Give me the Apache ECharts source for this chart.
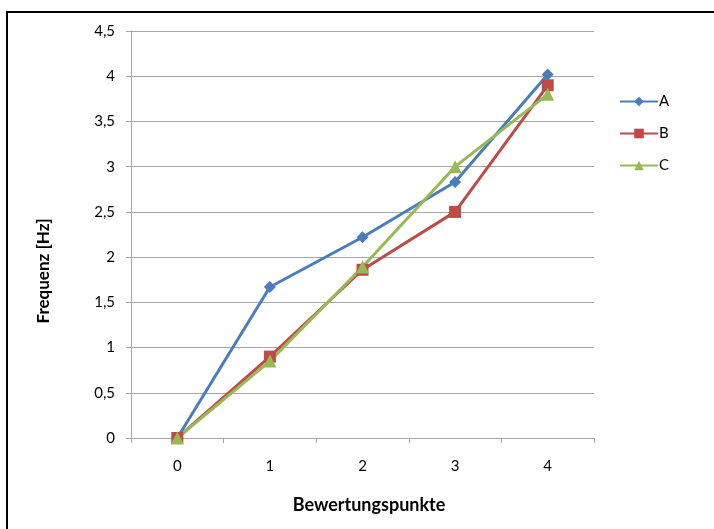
<!DOCTYPE html>
<html><head><meta charset="utf-8">
<script src="https://cdn.jsdelivr.net/npm/echarts@6/dist/echarts.min.js"></script>
<style>html,body{margin:0;padding:0;background:#fff}#c{width:714px;height:529px}</style>
</head><body><div id="c"></div>
<script>
var categories = ['0', '1', '2', '3', '4'];
var seriesA = [0, 1.67, 2.22, 2.83, 4.02];
var seriesB = [0, 0.9, 1.86, 2.5, 3.9];
var seriesC = [0, 0.85, 1.89, 3.0, 3.8];
var seriesNames = ['A', 'B', 'C'];
var xTitle = 'Bewertungspunkte';
var yTitle = 'Frequenz [Hz]';

var FONT = 'Lato, "Open Sans", sans-serif';
var colors = ['#4a7ebb', '#be4b48', '#98b954'];
var chart = echarts.init(document.getElementById('c'), null, {renderer: 'canvas'});
function mk(name, data, color, symbol, size) {
  return {
    name: name, type: 'line', data: data, symbol: symbol, symbolSize: size,
    showAllSymbol: true,
    lineStyle: {color: color, width: 3}, itemStyle: {color: color},
    emphasis: {disabled: true}, animation: false
  };
}
chart.setOption({
  animation: false,
  color: colors,
  grid: {left: 131, right: 120, top: 31, bottom: 91, containLabel: false},
  legend: {
    orient: 'vertical', left: 614, top: 89, itemGap: 17,
    itemWidth: 38, itemHeight: 12,
    textStyle: {fontFamily: FONT, fontSize: 15, color: '#000', padding: [0, 0, 0, -4]},
    data: seriesNames
  },
  xAxis: {
    type: 'category', data: categories, boundaryGap: true,
    axisLine: {lineStyle: {color: '#a6a6a6', width: 1}},
    axisTick: {show: true, length: 5, lineStyle: {color: '#a6a6a6'}},
    axisLabel: {fontFamily: FONT, fontSize: 15, color: '#000', margin: 21},
    splitLine: {show: false}
  },
  yAxis: {
    type: 'value', min: 0, max: 4.5, interval: 0.5,
    axisLine: {show: true, lineStyle: {color: '#a6a6a6', width: 1}},
    axisTick: {show: true, length: 5, lineStyle: {color: '#a6a6a6'}},
    axisLabel: {fontFamily: FONT, fontSize: 15, color: '#000', margin: 16,
      formatter: function (v) { return String(v).replace('.', ','); }},
    splitLine: {show: true, lineStyle: {color: '#a6a6a6', width: 1}}
  },
  graphic: [
    {type: 'rect', shape: {x: 7, y: 12, width: 740, height: 560},
     style: {fill: 'none', stroke: '#000', lineWidth: 2}, silent: true, z: 100},
    {type: 'text', x: 369, y: 505, style: {text: xTitle, fontFamily: FONT, fontWeight: 'bold',
      fontSize: 18, fill: '#000', align: 'center', verticalAlign: 'middle'}},
    {type: 'text', x: 44, y: 271, rotation: Math.PI / 2,
     style: {text: yTitle, fontFamily: FONT, fontWeight: 'bold',
      fontSize: 17, fill: '#000', align: 'center', verticalAlign: 'middle'}}
  ],
  series: [
    mk(seriesNames[0], seriesA, colors[0], 'diamond', 12),
    mk(seriesNames[1], seriesB, colors[1], 'rect', 12),
    mk(seriesNames[2], seriesC, colors[2], 'triangle', 13)
  ]
});
</script></body></html>
